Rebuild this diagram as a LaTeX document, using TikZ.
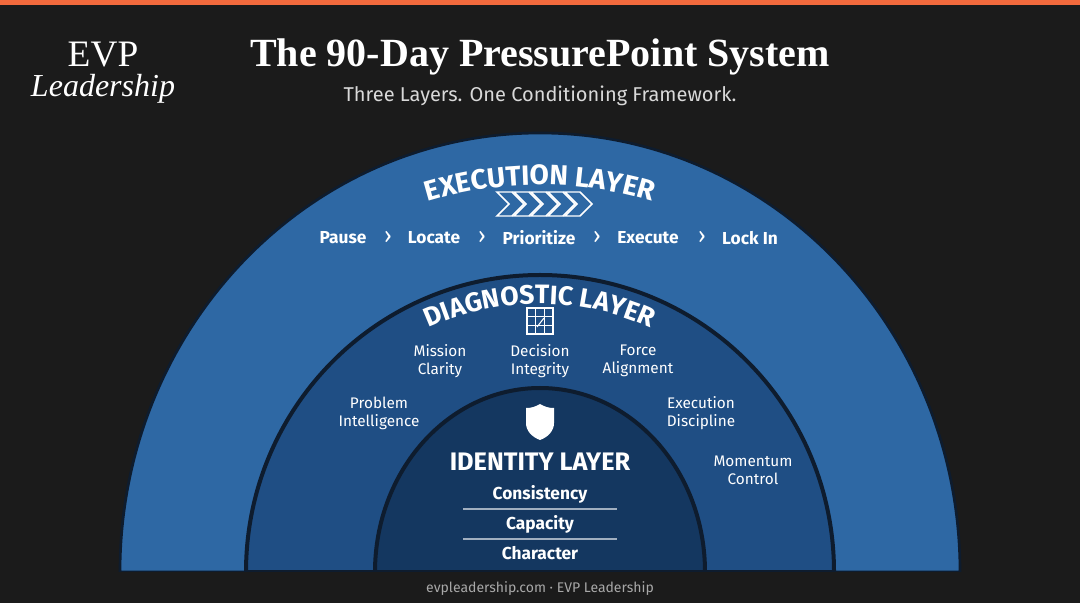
\documentclass[tikz,border=0pt]{standalone}
\usepackage{fontspec}
\setmainfont{Liberation Serif}
\setsansfont{Fira Sans}
\usetikzlibrary{positioning, decorations.text}
\definecolor{bg}{HTML}{1B1B1B}
\definecolor{orangebar}{HTML}{F26A3D}
\definecolor{outerblue}{HTML}{2E68A4}
\definecolor{midblue}{HTML}{1F4E84}
\definecolor{innerblue}{HTML}{143760}
\definecolor{rim}{HTML}{0E1C2E}
\definecolor{footgrey}{HTML}{A8A8A8}
\tikzstyle{stepname}=[text=white, font=\sffamily\bfseries\fontsize{13}{15}\selectfont]
\tikzstyle{diag}=[text=white, align=center, font=\sffamily\fontsize{11.5}{13.5}\selectfont]
\tikzstyle{core}=[text=white, font=\sffamily\bfseries\fontsize{13}{15}\selectfont]
\tikzstyle{arrowsep}=[text=white, font=\sffamily\fontsize{17}{18}\selectfont]

\begin{document}
\begin{tikzpicture}[x=0.75pt, y=0.75pt]
            % background and frame
            \fill[bg] (0,0) rectangle (1080,603);
            \useasboundingbox (0,0) rectangle (1080,603);
            \fill[orangebar] (0,598) rectangle (1080,603);
            \coordinate (c) at (540,31);
            % layers
            \fill[outerblue, draw=rim, line width=2pt] (120,31) arc[start angle=180, end angle=0, x radius=420, y radius=439] -- cycle;
            \fill[midblue, draw=rim, line width=3pt] (246,31) arc[start angle=180, end angle=0, x radius=294, y radius=297] -- cycle;
            \fill[innerblue, draw=rim, line width=3pt] (375,31) arc[start angle=180, end angle=0, x radius=165, y radius=184] -- cycle;
            \fill[bg] (0,0) rectangle (1080,31);
            % header
            \node[text=white, font=\fontsize{28}{30}\selectfont] (evp) at (103,548) {EVP};
            \node[text=white, font=\itshape\fontsize{24}{26}\selectfont] (lead) at (103,514) {Leadership};
            \node[text=white, font=\bfseries\fontsize{30}{34}\selectfont] (title) at (540,546) {The 90-Day PressurePoint System};
            \node[text=white!85!black, font=\sffamily\fontsize{15}{18}\selectfont] (sub) at (540,507) {Three Layers. One Conditioning Framework.};
            % curved layer titles
            \path[decorate, decoration={text along path, text align=center,
                text={|\sffamily\bfseries\fontsize{21}{24}\selectfont\color{white}|EXECUTION LAYER}}]
                (c) ++(150:387) arc[start angle=150, end angle=30, radius=387];
            \path[decorate, decoration={text along path, text align=center,
                text={|\sffamily\bfseries\fontsize{20}{24}\selectfont\color{white}|DIAGNOSTIC LAYER}}]
                (c) ++(160:268) arc[start angle=160, end angle=20, radius=268];
            % chevrons
            \foreach \i in {0,...,4}{
                \draw[white, line width=1.1pt, line join=miter]
                    (497+\i*17,411) -- (512+\i*17,411) -- (524+\i*17,399) -- (512+\i*17,387)
                    -- (497+\i*17,387) -- (509+\i*17,399) -- cycle;
            }
            % execution steps
            \node[stepname] (pause) at (343,365) {Pause};
            \node[arrowsep] (a1) at (388,366) {›};
            \node[stepname] (locate) at (434,365) {Locate};
            \node[arrowsep] (a2) at (482,366) {›};
            \node[stepname] (prior) at (539,365) {Prioritize};
            \node[arrowsep] (a3) at (597,366) {›};
            \node[stepname] (exec) at (648,365) {Execute};
            \node[arrowsep] (a4) at (702,366) {›};
            \node[stepname] (lock) at (750,365) {Lock In};
            % grid icon
            \draw[white, line width=0.8pt] (527,269) rectangle (553,295);
            \draw[white, line width=0.8pt] (535.7,269) -- (535.7,295) (544.3,269) -- (544.3,295)
                (527,277.7) -- (553,277.7) (527,286.3) -- (553,286.3);
            \draw[white, line width=0.8pt] (537,276) -- (544,285);
            % diagnostic labels
            \node[diag] (mission) at (440,242) {Mission\\Clarity};
            \node[diag] (decision) at (540,242) {Decision\\Integrity};
            \node[diag] (force) at (638,242) {Force\\Alignment};
            \node[diag] (problem) at (379,190) {Problem\\Intelligence};
            \node[diag] (discipline) at (701,190) {Execution\\Discipline};
            \node[diag] (momentum) at (753,133) {Momentum\\Control};
            % shield
            \fill[white] (540,199) .. controls (535,196) and (531,195) .. (526,195) -- (526,180)
                .. controls (526,172) and (532,166) .. (540,163)
                .. controls (548,166) and (554,172) .. (554,180) -- (554,195)
                .. controls (549,195) and (545,196) .. (540,199) -- cycle;
            % identity layer
            \node[text=white, font=\sffamily\bfseries\fontsize{19}{22}\selectfont] (identity) at (540,141) {IDENTITY LAYER};
            \node[core] (consist) at (540,109) {Consistency};
            \node[core] (capac) at (540,79) {Capacity};
            \node[core] (charac) at (540,50) {Character};
            \draw[white!60!innerblue, line width=0.8pt] (463,94) -- (617,94);
            \draw[white!60!innerblue, line width=0.8pt] (463,64) -- (617,64);
            % footer
            \node[text=footgrey, font=\sffamily\fontsize{10.5}{12}\selectfont] (foot) at (540,14) {evpleadership.com · EVP Leadership};
        \end{tikzpicture}
\end{document}
